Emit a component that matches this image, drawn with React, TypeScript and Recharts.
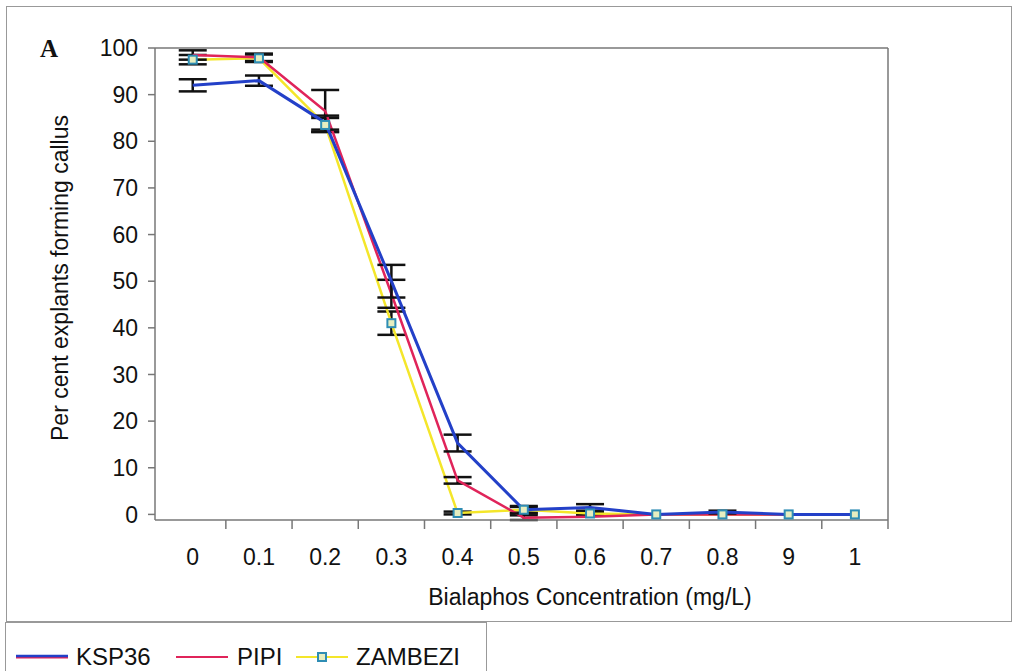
import React from "react";
import { ErrorBar, Line, LineChart, XAxis, YAxis } from "recharts";

// Callus formation vs bialaphos concentration, three maize lines.

const categories = ["0", "0.1", "0.2", "0.3", "0.4", "0.5", "0.6", "0.7", "0.8", "9", "1"];
const ksp36 = [92, 93, 84, 50, 15.3, 1, 1.5, 0, 0.5, 0, 0];
const ksp36Err = [1.3, 1.1, 1.5, 3.5, 1.8, 0.8, 0.7, 0, 0.3, 0, 0];
const pipi = [98.5, 98, 86.5, 47.3, 7.3, -0.7, -0.5, 0, 0, 0, 0];
const pipiErr = [1, 0.8, 4.5, 3, 0.7, 0.5, 0, 0, 0, 0, 0];
const zambezi = [97.5, 97.8, 83.5, 41, 0.3, 1, 0.2, 0, 0, 0, 0];
const zambeziErr = [1, 0.8, 1.5, 2.5, 0.3, 0.6, 0.3, 0, 0, 0, 0];
const yTicks = [0, 10, 20, 30, 40, 50, 60, 70, 80, 90, 100];

const data = categories.map((c, i) => ({
  i,
  name: c,
  ksp36: ksp36[i],
  ksp36Err: ksp36Err[i],
  pipi: pipi[i],
  pipiErr: pipiErr[i],
  zambezi: zambezi[i],
  zambeziErr: zambeziErr[i],
}));

// labels sit on the categories, tick marks on the boundaries between them
const xTicks = categories.flatMap((_, i) => [i, i + 0.5]);

const FONT = "'Liberation Sans', Arial, sans-serif";
const AXIS = "#777";
const BLUE = "#2340c8";
const RED = "#e0245a";
const YELLOW = "#f4e62a";

function SquareDot(props: any) {
  const { cx, cy } = props;
  if (cx == null || cy == null) return null;
  return (
    <rect x={cx - 4} y={cy - 4} width={8} height={8} fill="#e6eec0" stroke="#2e8db4" strokeWidth={2} />
  );
}

function XTick(props: any) {
  const { x, y, payload } = props;
  const v = payload.value as number;
  if (!Number.isInteger(v)) {
    return <line x1={x} y1={y} x2={x} y2={y + 9} stroke={AXIS} strokeWidth={1.5} />;
  }
  return (
    <text x={x} y={y + 29} dy="0.71em" textAnchor="middle" fontSize={23} fontFamily={FONT} fill="#111">
      {categories[v]}
    </text>
  );
}

export default function App() {
  const tickStyle = { fontSize: 23, fontFamily: FONT, fill: "#111" };
  return (
    <div style={{ position: "absolute", left: 0, top: 0, width: 1016, height: 671, background: "#fff", fontFamily: FONT }}>
      <div style={{ position: "absolute", left: 6, top: 6, width: 1004, height: 614, border: "1px solid #999" }} />
      <div style={{ position: "absolute", left: 0, top: 0 }}>
        <LineChart width={1016} height={620} data={data} margin={{ top: 47, right: 127, left: 0, bottom: 42 }}>
          <XAxis
            dataKey="i"
            type="number"
            domain={[-0.57, 10.5]}
            ticks={xTicks}
            interval={0}
            height={58}
            tickLine={false}
            tickSize={0}
            tickMargin={0}
            stroke={AXIS}
            strokeWidth={1.5}
            tick={<XTick />}
          />
          <XAxis xAxisId="t" orientation="top" height={1} tick={false} tickLine={false} stroke={AXIS} strokeWidth={1.5} />
          <YAxis
            domain={[0, 100]}
            ticks={yTicks}
            interval={0}
            width={155}
            tickSize={7}
            tickMargin={10}
            stroke={AXIS}
            strokeWidth={1.5}
            tick={tickStyle}
          />
          <YAxis yAxisId="r" orientation="right" width={1} tick={false} tickLine={false} stroke={AXIS} strokeWidth={1.5} />
          <Line dataKey="zambezi" stroke={YELLOW} strokeWidth={2.5} dot={<SquareDot />} isAnimationActive={false}>
            <ErrorBar dataKey="zambeziErr" width={14} stroke="#111" strokeWidth={2.5} />
          </Line>
          <Line dataKey="pipi" stroke={RED} strokeWidth={2.5} dot={false} isAnimationActive={false}>
            <ErrorBar dataKey="pipiErr" width={14} stroke="#111" strokeWidth={2.5} />
          </Line>
          <Line dataKey="ksp36" stroke={BLUE} strokeWidth={3} dot={false} isAnimationActive={false}>
            <ErrorBar dataKey="ksp36Err" width={14} stroke="#111" strokeWidth={2.5} />
          </Line>
        </LineChart>
      </div>
      <div
        style={{
          position: "absolute",
          left: 60,
          top: 278,
          transform: "translate(-50%, -50%) rotate(-90deg)",
          whiteSpace: "nowrap",
          fontSize: 23,
          color: "#111",
        }}
      >
        Per cent explants forming callus
      </div>
      <div
        style={{
          position: "absolute",
          left: 590,
          top: 597,
          transform: "translate(-50%, -50%)",
          whiteSpace: "nowrap",
          fontSize: 23,
          color: "#111",
        }}
      >
        Bialaphos Concentration (mg/L)
      </div>
      <div
        style={{
          position: "absolute",
          left: 40,
          top: 35,
          fontFamily: "'Liberation Serif', 'Times New Roman', serif",
          fontWeight: "bold",
          fontSize: 25,
          color: "#111",
        }}
      >
        A
      </div>
      <div
        style={{
          position: "absolute",
          left: 5,
          top: 622,
          width: 480,
          height: 60,
          border: "1px solid #999",
          background: "#fff",
        }}
      >
        <svg width={480} height={50} style={{ position: "absolute", left: 0, top: 0 }}>
          <line x1={10} y1={34} x2={62} y2={34} stroke={RED} strokeWidth={3} />
          <line x1={10} y1={33} x2={62} y2={33} stroke={BLUE} strokeWidth={2.5} />
          <line x1={170} y1={34} x2={222} y2={34} stroke={RED} strokeWidth={2} />
          <line x1={290} y1={34} x2={342} y2={34} stroke={YELLOW} strokeWidth={2} />
          <rect x={312} y={30} width={8} height={8} fill="#e6eec0" stroke="#2e8db4" strokeWidth={2} />
          <text x={70} y={42} fontSize={24} fontFamily={FONT} fill="#111">KSP36</text>
          <text x={231} y={42} fontSize={24} fontFamily={FONT} fill="#111">PIPI</text>
          <text x={350} y={42} fontSize={24} fontFamily={FONT} fill="#111">ZAMBEZI</text>
        </svg>
      </div>
    </div>
  );
}
